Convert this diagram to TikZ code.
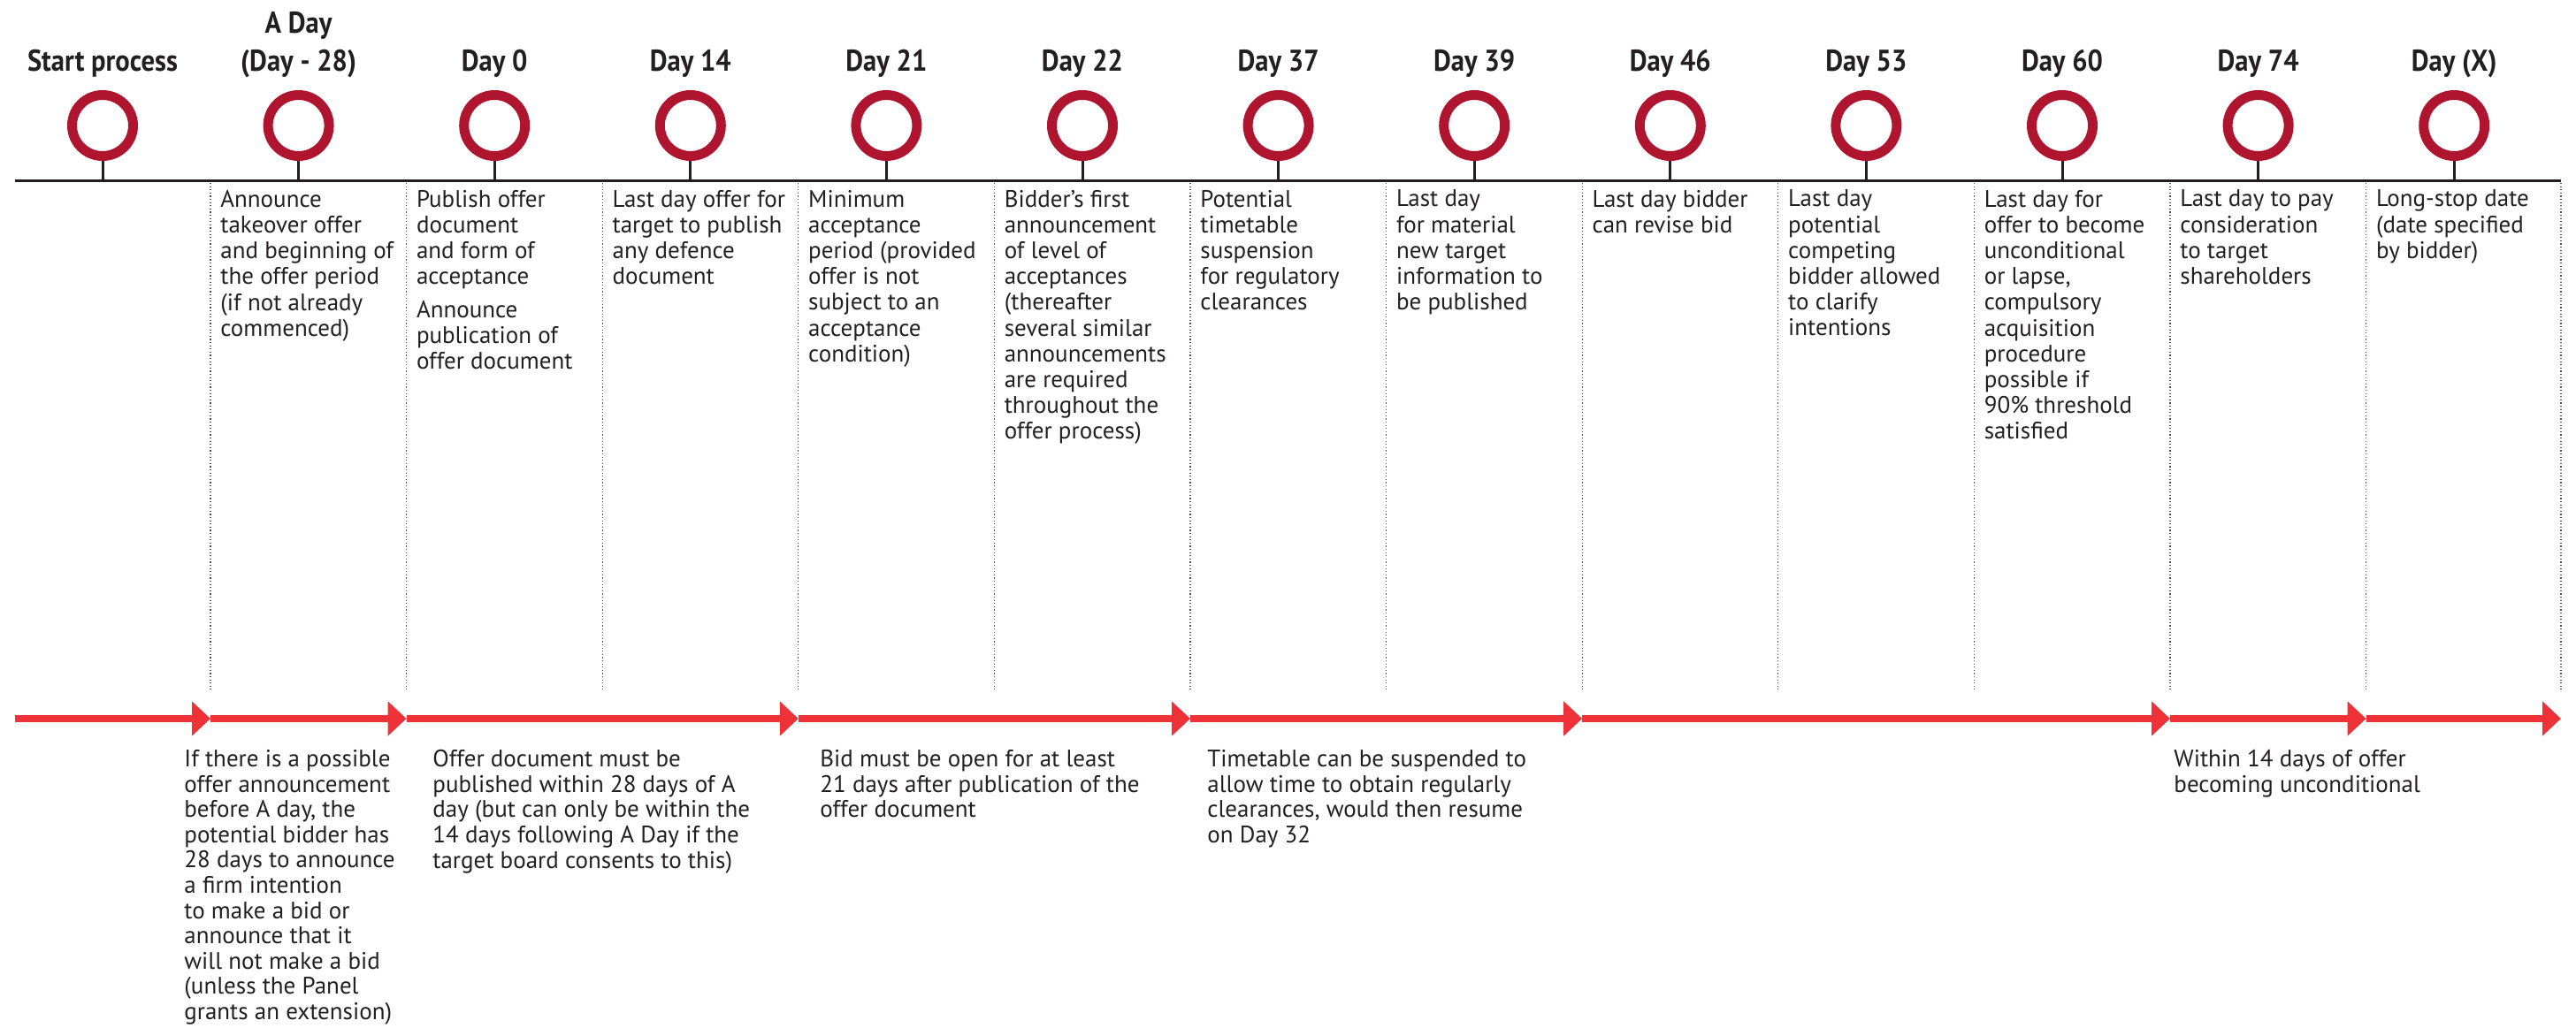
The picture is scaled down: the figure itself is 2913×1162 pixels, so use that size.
\documentclass[tikz,border=0pt]{standalone}
\usepackage{fontspec}
\setmainfont{PT Sans}
\newfontfamily\headfont[FakeStretch=0.9]{PT Sans}
\usetikzlibrary{arrows.meta}
\definecolor{ringred}{RGB}{175,21,46}
\definecolor{arrowred}{RGB}{238,50,56}
\definecolor{inkgray}{RGB}{35,31,32}

\tikzset{
  ring/.style={circle, draw=ringred, line width=5.5pt, minimum size=34.5pt, inner sep=0pt},
  daytitle/.style={font=\headfont\bfseries\fontsize{17}{21.5}\selectfont, anchor=base, align=center, inner sep=0pt, text=inkgray},
  note/.style={font=\fontsize{13.5}{14.6}\selectfont, anchor=north west, align=left, inner sep=0pt, text=inkgray, execute at begin node=\strut},
  periodnote/.style={note, font=\fontsize{13.5}{14.3}\selectfont},
  stem/.style={inkgray, line width=1.5pt},
  divider/.style={gray!60!black, line width=0.6pt, dash pattern=on 0.6pt off 1.2pt},
  stage/.style={arrowred, line width=4pt, -{Triangle[length=10.5pt,width=19pt]}},
}

\begin{document}
\begin{tikzpicture}[x=0.5pt,y=0.5pt,yscale=-1,xscale=1]
        \useasboundingbox (0,0) rectangle (2913,1162);

        % Axis
        \coordinate (ax0) at (17,204);
        \coordinate (ax1) at (2896,204);
        \draw [inkgray, line width=1.5pt] (ax0) -- (ax1);

        % Dividers
        \draw [divider] (238,207) -- (238,780);
        \draw [divider] (459.6,207) -- (459.6,780);
        \draw [divider] (681.2,207) -- (681.2,780);
        \draw [divider] (902.8,207) -- (902.8,780);
        \draw [divider] (1124.4,207) -- (1124.4,780);
        \draw [divider] (1346,207) -- (1346,780);
        \draw [divider] (1567.6,207) -- (1567.6,780);
        \draw [divider] (1789.2,207) -- (1789.2,780);
        \draw [divider] (2010.8,207) -- (2010.8,780);
        \draw [divider] (2232.4,207) -- (2232.4,780);
        \draw [divider] (2454,207) -- (2454,780);
        \draw [divider] (2675.6,207) -- (2675.6,780);
        \draw [divider] (2896,207) -- (2896,780);

        % Rings
        \node [ring] (r0) at (116,142) {};
        \node [ring] (r1) at (337.6,142) {};
        \node [ring] (r2) at (559.2,142) {};
        \node [ring] (r3) at (780.8,142) {};
        \node [ring] (r4) at (1002.4,142) {};
        \node [ring] (r5) at (1224,142) {};
        \node [ring] (r6) at (1445.6,142) {};
        \node [ring] (r7) at (1667.2,142) {};
        \node [ring] (r8) at (1888.8,142) {};
        \node [ring] (r9) at (2110.4,142) {};
        \node [ring] (r10) at (2332,142) {};
        \node [ring] (r11) at (2553.6,142) {};
        \node [ring] (r12) at (2775.2,142) {};

        % Stems
        \draw [stem] (r0.south) -- (r0.south |- ax0);
        \draw [stem] (r1.south) -- (r1.south |- ax0);
        \draw [stem] (r2.south) -- (r2.south |- ax0);
        \draw [stem] (r3.south) -- (r3.south |- ax0);
        \draw [stem] (r4.south) -- (r4.south |- ax0);
        \draw [stem] (r5.south) -- (r5.south |- ax0);
        \draw [stem] (r6.south) -- (r6.south |- ax0);
        \draw [stem] (r7.south) -- (r7.south |- ax0);
        \draw [stem] (r8.south) -- (r8.south |- ax0);
        \draw [stem] (r9.south) -- (r9.south |- ax0);
        \draw [stem] (r10.south) -- (r10.south |- ax0);
        \draw [stem] (r11.south) -- (r11.south |- ax0);
        \draw [stem] (r12.south) -- (r12.south |- ax0);

        % Day titles
        \node [daytitle] (d0) at (116,80) {Start process};
        \node [daytitle] (d1) at (337.6,80) {A Day\\(Day - 28)};
        \node [daytitle] (d2) at (559.2,80) {Day 0};
        \node [daytitle] (d3) at (780.8,80) {Day 14};
        \node [daytitle] (d4) at (1002.4,80) {Day 21};
        \node [daytitle] (d5) at (1224,80) {Day 22};
        \node [daytitle] (d6) at (1445.6,80) {Day 37};
        \node [daytitle] (d7) at (1667.2,80) {Day 39};
        \node [daytitle] (d8) at (1888.8,80) {Day 46};
        \node [daytitle] (d9) at (2110.4,80) {Day 53};
        \node [daytitle] (d10) at (2332,80) {Day 60};
        \node [daytitle] (d11) at (2553.6,80) {Day 74};
        \node [daytitle] (d12) at (2775.2,80) {Day (X)};

        % Column notes
        \node [note] (n1) at (249,214.6) {Announce\\takeover offer\\and beginning of\\the offer period\\(if not already\\commenced)};
        \node [note] (n2) at (470.6,214.6) {Publish offer\\document\\and form of\\acceptance\\[4.3pt]Announce\\publication of\\offer document};
        \node [note] (n3) at (692.2,214.6) {Last day offer for\\target to publish\\any defence\\document};
        \node [note] (n4) at (913.8,214.6) {Minimum\\acceptance\\period (provided\\offer is not\\subject to an\\acceptance\\condition)};
        \node [note] (n5) at (1135.4,214.6) {Bidder's first\\announcement\\of level of\\acceptances\\(thereafter\\several similar\\announcements\\are required\\throughout the\\offer process)};
        \node [note] (n6) at (1357,214.6) {Potential\\timetable\\suspension\\for regulatory\\clearances};
        \node [note] (n7) at (1578.6,214.6) {Last day\\for material\\new target\\information to\\be published};
        \node [note] (n8) at (1800.2,214.6) {Last day bidder\\can revise bid};
        \node [note] (n9) at (2021.8,214.6) {Last day\\potential\\competing\\bidder allowed\\to clarify\\intentions};
        \node [note] (n10) at (2243.4,214.6) {Last day for\\offer to become\\unconditional\\or lapse,\\compulsory\\acquisition\\procedure\\possible if\\90\% threshold\\satisfied};
        \node [note] (n11) at (2465,214.6) {Last day to pay\\consideration\\to target\\shareholders};
        \node [note] (n12) at (2686.6,214.6) {Long-stop date\\(date specified\\by bidder)};

        % Period arrows
        \coordinate (p0) at (17,813);
        \coordinate (p1) at (238,813);
        \coordinate (p2) at (459.6,813);
        \coordinate (p3) at (902.8,813);
        \coordinate (p4) at (1346,813);
        \coordinate (p5) at (1789.2,813);
        \coordinate (p6) at (2454,813);
        \coordinate (p7) at (2675.6,813);
        \coordinate (p8) at (2896,813);
        \draw [stage] (p0) -- (p1);
        \draw [stage] (p1) -- (p2);
        \draw [stage] (p2) -- (p3);
        \draw [stage] (p3) -- (p4);
        \draw [stage] (p4) -- (p5);
        \draw [stage] (p5) -- (p6);
        \draw [stage] (p6) -- (p7);
        \draw [stage] (p7) -- (p8);

        % Period notes
        \node [periodnote] (b1) at (208,848) {If there is a possible\\offer announcement\\before A day, the\\potential bidder has\\28 days to announce\\a firm intention\\to make a bid or\\announce that it\\will not make a bid\\(unless the Panel\\grants an extension)};
        \node [periodnote] (b2) at (489,848) {Offer document must be\\published within 28 days of A\\day (but can only be within the\\14 days following A Day if the\\target board consents to this)};
        \node [periodnote] (b3) at (927,848) {Bid must be open for at least\\21 days after publication of the\\offer document};
        \node [periodnote] (b4) at (1365,848) {Timetable can be suspended to\\allow time to obtain regularly\\clearances, would then resume\\on Day 32};
        \node [periodnote] (b5) at (2458,848) {Within 14 days of offer\\becoming unconditional};

\end{tikzpicture}
\end{document}
